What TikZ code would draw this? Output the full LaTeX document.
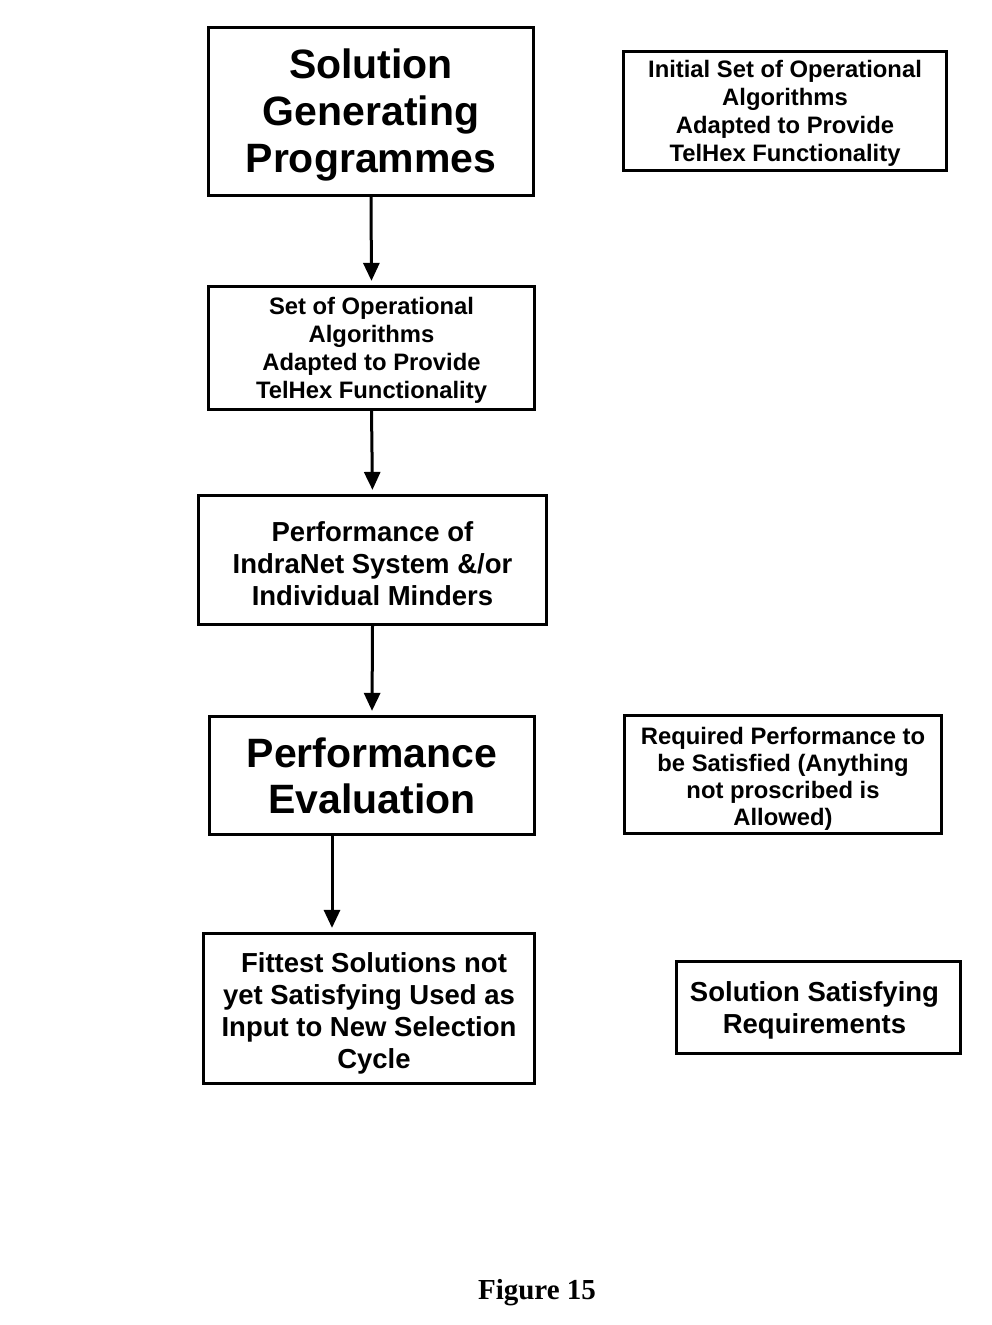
\documentclass[tikz,border=0pt]{standalone}
\usepackage{fontspec}
\setmainfont{Liberation Sans}
\newfontfamily\capfont{Liberation Serif}
\usetikzlibrary{arrows.meta}
\begin{document}
\begin{tikzpicture}[x=1pt,y=-1pt,
  box/.style={draw, line width=3.2pt, inner sep=0pt},
  txt/.style={inner sep=0pt, align=center},
  bigtxt/.style={txt, font=\bfseries\fontsize{41}{47}\selectfont},
  midtxt/.style={txt, font=\bfseries\fontsize{27.5}{32}\selectfont},
  smalltxt/.style={txt, font=\bfseries\fontsize{23.8}{28}\selectfont},
  flow/.style={-{Triangle[length=18pt,width=16pt]}, line width=3pt, shorten >=4pt}]
\useasboundingbox (0,0) rectangle (991,1325);
% boxes
\node[box, minimum width=325pt, minimum height=168pt] (sgp) at (371,111.5) {};
\node[box, minimum width=323pt, minimum height=119pt] (init) at (785,111) {};
\node[box, minimum width=326pt, minimum height=123pt] (set) at (371.5,348) {};
\node[box, minimum width=348pt, minimum height=129pt] (perf) at (372.5,560) {};
\node[box, minimum width=325pt, minimum height=118pt] (eval) at (372,775.5) {};
\node[box, minimum width=317pt, minimum height=118pt] (req) at (783,774.5) {};
\node[box, minimum width=331pt, minimum height=150pt] (fit) at (369,1008.5) {};
\node[box, minimum width=284pt, minimum height=92pt] (sol) at (818.5,1007.5) {};
% texts
\node[bigtxt] (sgpt) at ([yshift=-3.5pt]sgp.center) {Solution\\Generating\\Programmes};
\node[smalltxt] (initt) at ([yshift=-2pt]init.center) {Initial Set of Operational\\Algorithms\\Adapted to Provide\\TelHex Functionality};
\node[smalltxt] (sett) at ([yshift=-2pt]set.center) {Set of Operational\\Algorithms\\Adapted to Provide\\TelHex Functionality};
\node[midtxt] (perft) at ([yshift=-4pt]perf.center) {Performance of\\IndraNet System \&/or\\Individual Minders};
\node[bigtxt, font=\bfseries\fontsize{41}{46}\selectfont] (evalt) at (eval.center) {Performance\\Evaluation};
\node[smalltxt, font=\bfseries\fontsize{23.8}{27}\selectfont] (reqt) at ([yshift=-4pt]req.center) {Required Performance to\\be Satisfied (Anything\\not proscribed is\\Allowed)};
\node[midtxt] (fitt) at ([yshift=-5pt]fit.center) {\hspace*{10pt}Fittest Solutions not\\yet Satisfying Used as\\Input to New Selection\\\hspace*{10pt}Cycle};
\node[midtxt] (solt) at ([xshift=-4pt,yshift=-3pt]sol.center) {Solution Satisfying\\Requirements};
\node[font=\capfont\bfseries\fontsize{29}{34}\selectfont, inner sep=0pt] (cap) at (537,1293) {Figure 15};
% connectors
\draw[flow] (sgp.south) -- (set.north);
\draw[flow] (set.south) -- (perf.north);
\draw[flow] (perf.south) -- (eval.north);
\path ([xshift=-40pt]eval.south) coordinate (a4s);
\draw[flow] (a4s) -- (a4s |- fit.north);
\end{tikzpicture}
\end{document}
